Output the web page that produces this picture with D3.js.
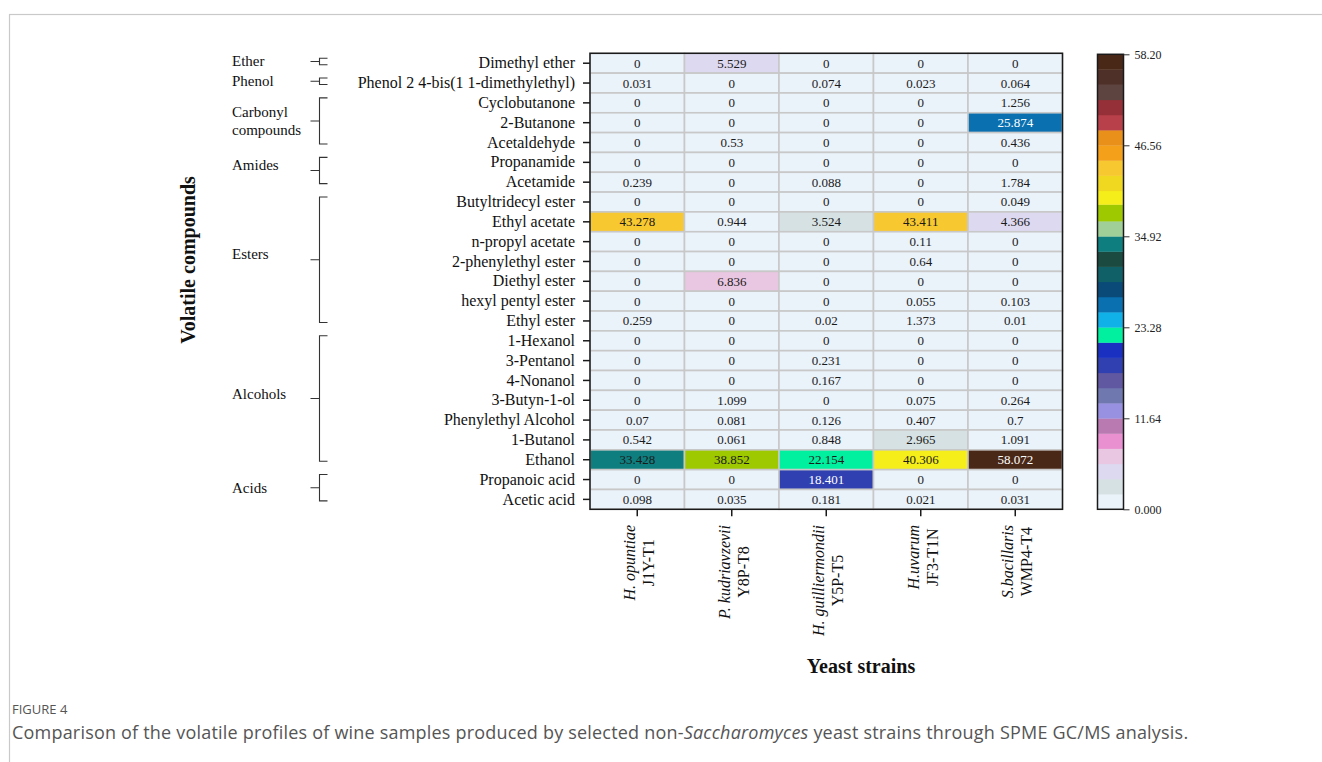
<!DOCTYPE html>
<html>
<head>
<meta charset="utf-8">
<script src="https://cdn.jsdelivr.net/npm/d3@7/dist/d3.min.js"></script>
<style>
  html, body { margin: 0; padding: 0; background: #fff; }
  svg { display: block; }
</style>
</head>
<body>
<svg id="chart" width="1322" height="762"></svg>
<script>
// Volatile compounds (rows, top to bottom)
const compounds = [
  "Dimethyl ether", "Phenol 2 4-bis(1 1-dimethylethyl)", "Cyclobutanone", "2-Butanone",
  "Acetaldehyde", "Propanamide", "Acetamide", "Butyltridecyl ester", "Ethyl acetate",
  "n-propyl acetate", "2-phenylethyl ester", "Diethyl ester", "hexyl pentyl ester",
  "Ethyl ester", "1-Hexanol", "3-Pentanol", "4-Nonanol", "3-Butyn-1-ol",
  "Phenylethyl Alcohol", "1-Butanol", "Ethanol", "Propanoic acid", "Acetic acid"
];

// Chemical classes and how many consecutive rows each one covers
const groupNames = ["Ether", "Phenol", "Carbonyl\ncompounds", "Amides", "Esters", "Alcohols", "Acids"];
const groupSizes = [1, 1, 3, 2, 7, 7, 2];

// Yeast strains (columns)
const strainSpecies = ["H. opuntiae", "P. kudriavzevii", "H. guilliermondii", "H.uvarum", "S.bacillaris"];
const strainCodes = ["J1Y-T1", "Y8P-T8", "Y5P-T5", "JF3-T1N", "WMP4-T4"];

// Relative abundance (%) per strain, in compound order
const valuesJ1YT1 = [0, 0.031, 0, 0, 0, 0, 0.239, 0, 43.278, 0, 0, 0, 0, 0.259, 0, 0, 0, 0, 0.07, 0.542, 33.428, 0, 0.098];
const valuesY8PT8 = [5.529, 0, 0, 0, 0.53, 0, 0, 0, 0.944, 0, 0, 6.836, 0, 0, 0, 0, 0, 1.099, 0.081, 0.061, 38.852, 0, 0.035];
const valuesY5PT5 = [0, 0.074, 0, 0, 0, 0, 0.088, 0, 3.524, 0, 0, 0, 0, 0.02, 0, 0.231, 0.167, 0, 0.126, 0.848, 22.154, 18.401, 0.181];
const valuesJF3T1N = [0, 0.023, 0, 0, 0, 0, 0, 0, 43.411, 0.11, 0.64, 0, 0.055, 1.373, 0, 0, 0, 0.075, 0.407, 2.965, 40.306, 0, 0.021];
const valuesWMP4T4 = [0, 0.064, 1.256, 25.874, 0.436, 0, 1.784, 0.049, 4.366, 0, 0, 0, 0.103, 0.01, 0, 0, 0, 0.264, 0.7, 1.091, 58.072, 0, 0.031];
const strainValues = [valuesJ1YT1, valuesY8PT8, valuesY5PT5, valuesJF3T1N, valuesWMP4T4];

// Discrete colour map: class breaks and one colour per class (low to high)
const colorBreaks = [1.94, 3.88, 5.82, 7.76, 9.7, 11.64, 13.58, 15.52, 17.46, 19.4,
  21.34, 23.28, 25.22, 27.16, 29.1, 31.04, 32.98, 34.92, 36.86, 39.0,
  40.74, 42.68, 44.62, 46.56, 48.5, 50.44, 52.38, 54.32, 56.26];
const colorClasses = [
  "#eaf2fa", "#d6e1e3", "#ddd9f1", "#e9c6e1", "#e890d0", "#b87ab0", "#9890e0", "#7078b0",
  "#6058a0", "#3040b0", "#1a30c0", "#00f0a0", "#10b0e8", "#0a70b0", "#0a4a78", "#106068",
  "#1a4a40", "#0e7e7e", "#a0d098", "#9ec800", "#f5ee1a", "#f0d820", "#f8c830", "#f5a01a",
  "#e8901a", "#b8404a", "#963038", "#5e4440", "#4e3029", "#4a2818"
];
const colorDomainMax = 58.2;
const colorbarTicks = [0, 11.64, 23.28, 34.92, 46.56, 58.2];
const colorbarTickLabels = ["0.000", "11.64", "23.28", "34.92", "46.56", "58.20"];

const serif = "'Liberation Serif', 'Times New Roman', serif";
const svg = d3.select("#chart");

// Outer figure frame
svg.append("rect")
  .attr("x", 9.5).attr("y", 14.5).attr("width", 1400).attr("height", 900)
  .attr("fill", "none").attr("stroke", "#c9c9c9").attr("stroke-width", 1.2);

const x = d3.scaleBand().domain(strainCodes).range([590, 1062.5]);
const y = d3.scaleBand().domain(compounds).range([53.3, 509.3]);
const color = d3.scaleThreshold().domain(colorBreaks).range(colorClasses);

function luminance(c) {
  const rgb = d3.rgb(c);
  const lin = v => { v /= 255; return v <= 0.03928 ? v / 12.92 : Math.pow((v + 0.055) / 1.055, 2.4); };
  return 0.2126 * lin(rgb.r) + 0.7152 * lin(rgb.g) + 0.0722 * lin(rgb.b);
}

// Heatmap cells
const cells = [];
strainCodes.forEach((code, j) => {
  compounds.forEach((name, i) => {
    cells.push({ code, name, value: strainValues[j][i] });
  });
});

const cellG = svg.append("g");
cellG.selectAll("rect").data(cells).join("rect")
  .attr("x", d => x(d.code))
  .attr("y", d => y(d.name))
  .attr("width", x.bandwidth())
  .attr("height", y.bandwidth())
  .attr("fill", d => color(d.value))
  .attr("stroke", "#c8c8c8")
  .attr("stroke-width", 1.6);

cellG.selectAll("text").data(cells).join("text")
  .attr("x", d => x(d.code) + x.bandwidth() / 2)
  .attr("y", d => y(d.name) + y.bandwidth() / 2)
  .attr("text-anchor", "middle")
  .attr("dominant-baseline", "central")
  .attr("font-family", serif)
  .attr("font-size", 13)
  .attr("fill", d => luminance(color(d.value)) < 0.157 ? "#ffffff" : "#1a1a1a")
  .text(d => String(d.value));

// Axes frame
svg.append("rect")
  .attr("x", 590).attr("y", 53.3).attr("width", 472.5).attr("height", 456)
  .attr("fill", "none").attr("stroke", "#1a1a1a").attr("stroke-width", 1.5);

// Compound axis
const yAxis = svg.append("g").attr("transform", "translate(590,0)")
  .call(d3.axisLeft(y).tickSize(7).tickPadding(8));
yAxis.select(".domain").remove();
yAxis.selectAll(".tick line").attr("stroke", "#1a1a1a").attr("stroke-width", 1.5);
yAxis.selectAll(".tick text")
  .attr("font-family", serif).attr("font-size", 16).attr("fill", "#111");

// Strain axis
const xAxis = svg.append("g").attr("transform", "translate(0,509.3)")
  .call(d3.axisBottom(x).tickSize(7).tickFormat(""));
xAxis.select(".domain").remove();
xAxis.selectAll(".tick line").attr("stroke", "#1a1a1a").attr("stroke-width", 1.5);

const labelTop = 525;
strainCodes.forEach((code, j) => {
  const cx = x(code) + x.bandwidth() / 2;
  const g = svg.append("g");
  const t1 = g.append("text")
    .attr("font-family", serif).attr("font-size", 16).attr("font-style", "italic")
    .attr("fill", "#111").attr("text-anchor", "middle")
    .text(strainSpecies[j]);
  const t2 = g.append("text")
    .attr("font-family", serif).attr("font-size", 16)
    .attr("fill", "#111").attr("text-anchor", "middle")
    .text(code);
  const w = Math.max(t1.node().getComputedTextLength(), t2.node().getComputedTextLength());
  const cy = labelTop + w / 2;
  t1.attr("transform", `translate(${cx - 2},${cy}) rotate(-90)`);
  t2.attr("transform", `translate(${cx + 17},${cy}) rotate(-90)`);
});

// Axis titles
svg.append("text")
  .attr("transform", "translate(195,260) rotate(-90)")
  .attr("text-anchor", "middle")
  .attr("font-family", serif).attr("font-size", 20).attr("font-weight", "bold")
  .attr("fill", "#111")
  .text("Volatile compounds");

svg.append("text")
  .attr("x", 861).attr("y", 673)
  .attr("text-anchor", "middle")
  .attr("font-family", serif).attr("font-size", 20).attr("font-weight", "bold")
  .attr("fill", "#111")
  .text("Yeast strains");

// Class brackets with their labels
const bracketX = 319.5;
const labelNudge = [0, 0, 0, -5.5, -6, -4.5, 0];
let rowStart = 0;
const brG = svg.append("g").attr("stroke", "#333").attr("stroke-width", 1.1).attr("fill", "none");
groupNames.forEach((gName, k) => {
  const first = compounds[rowStart];
  const last = compounds[rowStart + groupSizes[k] - 1];
  const top = y(first) + y.bandwidth() / 2 - 5;
  const bot = y(last) + y.bandwidth() / 2 + 1.5;
  const mid = (top + bot) / 2;
  brG.append("path")
    .attr("d", `M${bracketX + 8},${top}H${bracketX}V${bot}H${bracketX + 8}M${bracketX - 9},${mid}H${bracketX}`);
  const lines = gName.split("\n");
  const lh = 18;
  const t = svg.append("text")
    .attr("font-family", serif).attr("font-size", 15).attr("fill", "#111");
  lines.forEach((ln, li) => {
    t.append("tspan")
      .attr("x", 232)
      .attr("y", mid + labelNudge[k] + (li - (lines.length - 1) / 2) * lh)
      .attr("dominant-baseline", "central")
      .text(ln);
  });
  rowStart += groupSizes[k];
});

// Colour bar
const cbX = 1097.5, cbW = 26;
const cbY = d3.scaleLinear().domain([0, colorDomainMax]).range([509.3, 54.3]);
const cbEdges = [0, ...colorBreaks, colorDomainMax];
const cbG = svg.append("g");
cbG.selectAll("rect").data(colorClasses).join("rect")
  .attr("x", cbX)
  .attr("y", (d, i) => cbY(cbEdges[i + 1]))
  .attr("width", cbW)
  .attr("height", (d, i) => cbY(cbEdges[i]) - cbY(cbEdges[i + 1]) + 0.3)
  .attr("fill", d => d);
cbG.append("rect")
  .attr("x", cbX).attr("y", cbY(colorDomainMax))
  .attr("width", cbW).attr("height", cbY(0) - cbY(colorDomainMax))
  .attr("fill", "none").attr("stroke", "#1a1a1a").attr("stroke-width", 1.5);

const cbAxis = svg.append("g").attr("transform", `translate(${cbX + cbW},0)`)
  .call(d3.axisRight(cbY).tickValues(colorbarTicks)
    .tickFormat((d, i) => colorbarTickLabels[i]).tickSize(6).tickPadding(5));
cbAxis.select(".domain").remove();
cbAxis.selectAll(".tick line").attr("stroke", "#333").attr("stroke-width", 1);
cbAxis.selectAll(".tick text")
  .attr("font-family", serif).attr("font-size", 12).attr("fill", "#222");

// Caption
const sans = "'Open Sans', 'Noto Sans', sans-serif";
svg.append("text")
  .attr("x", 12).attr("y", 714)
  .attr("font-family", sans).attr("font-size", 13).attr("fill", "#555")
  .text("FIGURE 4");
const cap = svg.append("text")
  .attr("x", 12).attr("y", 739)
  .attr("font-family", sans).attr("font-size", 18).attr("letter-spacing", 0.2)
  .attr("fill", "#555");
cap.append("tspan").text("Comparison of the volatile profiles of wine samples produced by selected non-");
cap.append("tspan").attr("font-style", "italic").text("Saccharomyces");
cap.append("tspan").text(" yeast strains through SPME GC/MS analysis.");
</script>
</body>
</html>
